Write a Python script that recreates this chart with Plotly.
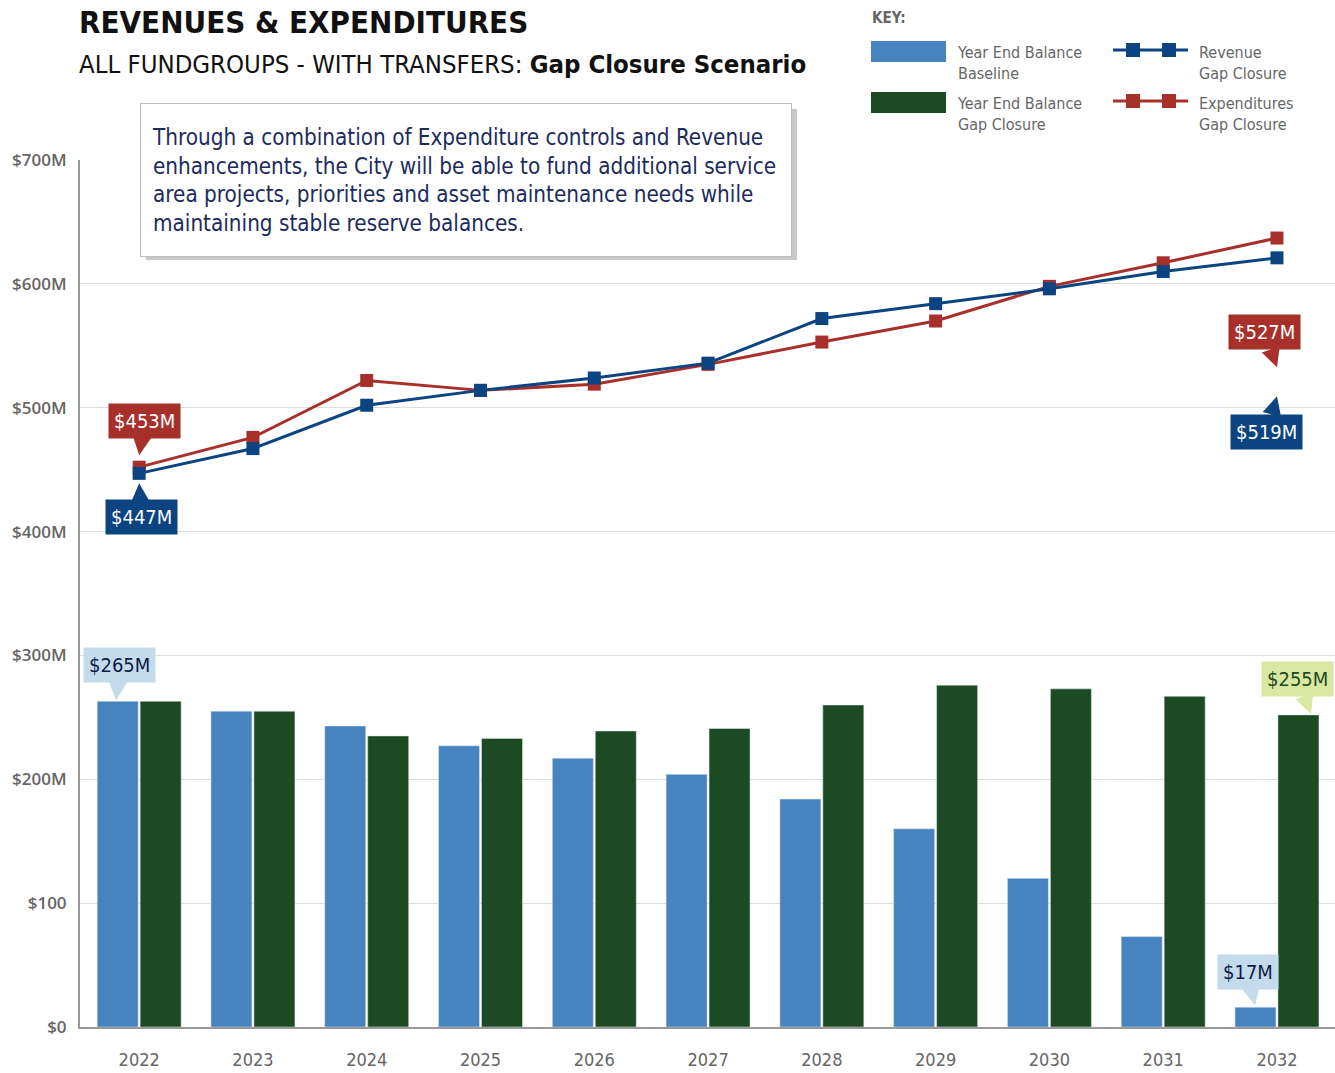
import plotly.graph_objects as go

years = ["2022", "2023", "2024", "2025", "2026", "2027", "2028", "2029", "2030", "2031", "2032"]
baseline_balance = [263, 255, 243, 227, 217, 204, 184, 160, 120, 73, 16]
gap_balance = [263, 255, 235, 233, 239, 241, 260, 276, 273, 267, 252]
revenue_gap = [447, 467, 502, 514, 524, 536, 572, 584, 596, 610, 621]
expend_gap = [452, 476, 522, 514, 519, 535, 553, 570, 598, 617, 637]
ytick_vals = [0, 100, 200, 300, 400, 500, 600, 700]
ytick_text = ["$0", "$100", "$200M", "$300M", "$400M", "$500M", "$600M", "$700M"]

C_BLUE = "#4683bf"
C_GREEN = "#1c4a23"
C_REV = "#0b4480"
C_EXP = "#a8302b"
GRAY = "#666666"
NARROW = "DejaVu Sans Condensed, Liberation Sans Narrow, sans-serif"

W, H = 1335, 1073
L, R, T, B = 80, 1335, 160, 1027
def px(x):
    return (x - L) / (R - L)
def py(y):
    return (B - y) / (B - T)

xs = list(range(len(years)))

fig = go.Figure()
fig.add_trace(go.Bar(x=xs, y=baseline_balance, marker_color=C_BLUE, name="Year End Balance Baseline", showlegend=False))
fig.add_trace(go.Bar(x=xs, y=gap_balance, marker_color=C_GREEN, name="Year End Balance Gap Closure", showlegend=False))
fig.add_trace(go.Scatter(x=xs, y=expend_gap, mode="lines+markers", line=dict(color=C_EXP, width=3),
                         marker=dict(symbol="square", size=13, color=C_EXP), name="Expenditures Gap Closure", showlegend=False))
fig.add_trace(go.Scatter(x=xs, y=revenue_gap, mode="lines+markers", line=dict(color=C_REV, width=3),
                         marker=dict(symbol="square", size=13, color=C_REV), name="Revenue Gap Closure", showlegend=False))

annotations = []
shapes = []

# Title
annotations.append(dict(xref="paper", yref="paper", x=px(77), y=py(22), xanchor="left", yanchor="middle",
                        text="<b>REVENUES & EXPENDITURES</b>", showarrow=False,
                        font=dict(family=NARROW, size=31, color="#111111")))
annotations.append(dict(xref="paper", yref="paper", x=px(77), y=py(64), xanchor="left", yanchor="middle",
                        text="ALL FUNDGROUPS - WITH TRANSFERS: <b>Gap Closure Scenario</b>", showarrow=False,
                        font=dict(family=NARROW, size=25.5, color="#111111")))

# Text box with shadow
shapes.append(dict(type="rect", xref="paper", yref="paper", x0=px(146), x1=px(797), y0=py(260), y1=py(109),
                   fillcolor="#c8c8c8", line=dict(width=0), layer="above"))
annotations.append(dict(xref="paper", yref="paper", x=px(140), y=py(103), xanchor="left", yanchor="top",
                        text="Through a combination of Expenditure controls and Revenue<br>"
                             "enhancements, the City will be able to fund additional service<br>"
                             "area projects, priorities and asset maintenance needs while<br>"
                             "maintaining stable reserve balances.",
                        showarrow=False, align="left", valign="middle", width=628, height=130,
                        bgcolor="white", bordercolor="#bbbbbb", borderwidth=1, borderpad=11,
                        font=dict(family=NARROW, size=22.3, color="#1c2b5e")))

# Key
annotations.append(dict(xref="paper", yref="paper", x=px(870), y=py(18), xanchor="left", yanchor="middle",
                        text="<b>KEY:</b>", showarrow=False, font=dict(family=NARROW, size=15, color=GRAY)))
shapes.append(dict(type="rect", xref="paper", yref="paper", x0=px(871), x1=px(946), y0=py(62), y1=py(41),
                   fillcolor=C_BLUE, line=dict(width=0), layer="above"))
shapes.append(dict(type="rect", xref="paper", yref="paper", x0=px(871), x1=px(946), y0=py(113), y1=py(92),
                   fillcolor=C_GREEN, line=dict(width=0), layer="above"))
key_text = [(955, 63, "Year End Balance<br>Baseline"), (955, 114, "Year End Balance<br>Gap Closure"),
            (1197, 63, "Revenue<br>Gap Closure"), (1197, 114, "Expenditures<br>Gap Closure")]
for kx, ky, kt in key_text:
    annotations.append(dict(xref="paper", yref="paper", x=px(kx), y=py(ky), xanchor="left", yanchor="middle",
                            text=kt, showarrow=False, align="left",
                            font=dict(family=NARROW, size=16, color=GRAY)))
for ky, col in [(50, C_REV), (101, C_EXP)]:
    shapes.append(dict(type="line", xref="paper", yref="paper", x0=px(1113), x1=px(1188), y0=py(ky), y1=py(ky),
                       line=dict(color=col, width=3), layer="above"))
    for mx in (1133, 1169):
        shapes.append(dict(type="rect", xref="paper", yref="paper", x0=px(mx - 7), x1=px(mx + 7),
                           y0=py(ky + 7), y1=py(ky - 7), fillcolor=col, line=dict(width=0), layer="above"))

# Callouts
def callout(x, y, text, bg, fg, ax, ay, xshift=0, yshift=0):
    annotations.append(dict(x=x, y=y, xref="x", yref="y", text=text, showarrow=True,
                            ax=ax, ay=ay, axref="pixel", ayref="pixel", xshift=xshift, yshift=yshift,
                            arrowhead=2, arrowsize=1.9, arrowwidth=2, arrowcolor=bg, standoff=0,
                            bgcolor=bg, borderpad=5, font=dict(family=NARROW, size=20, color=fg)))

callout(0, expend_gap[0], "$453M", C_EXP, "white", 5, -34, yshift=12)
callout(0, revenue_gap[0], "$447M", C_REV, "white", 2, 34, yshift=-10)
callout(10, 527, "$527M", C_EXP, "white", -12, -35, yshift=7)
callout(10, 519, "$519M", C_REV, "white", -10, 36, yshift=-12)
callout(0, baseline_balance[0], "$265M", "#c3dbea", "#0e1b45", 3, -35, xshift=-23, yshift=1)
callout(10, baseline_balance[10], "$17M", "#c3dbea", "#0e1b45", -7, -33, xshift=-22, yshift=2)
callout(10, gap_balance[10], "$255M", "#d9e8a0", C_GREEN, -13, -35, xshift=34, yshift=1)

fig.update_layout(
    width=W, height=H,
    margin=dict(l=L, r=W - R, t=T, b=H - B, pad=0),
    plot_bgcolor="white", paper_bgcolor="white",
    barmode="group", bargap=0.245, bargroupgap=0.045,
    annotations=annotations, shapes=shapes,
    xaxis=dict(range=[-0.52, 10.51], tickvals=xs, ticktext=years, showgrid=False, zeroline=False,
               showline=True, linecolor="#999999", linewidth=2, ticks="", ticklabelstandoff=15,
               automargin=False, tickfont=dict(family=NARROW, size=18, color=GRAY)),
    yaxis=dict(range=[0, 700], tickvals=ytick_vals, ticktext=ytick_text, showgrid=True, gridcolor="#dddddd",
               gridwidth=1, zeroline=False, showline=True, linecolor="#999999", linewidth=2, ticks="",
               automargin=False, ticklabelstandoff=8,
               tickfont=dict(family="Open Sans", size=17, color=GRAY, weight=600)),
)

fig.write_html("out.html", config={"displayModeBar": False},
               post_script="document.body.style.margin='0';document.body.style.overflow='hidden';")
